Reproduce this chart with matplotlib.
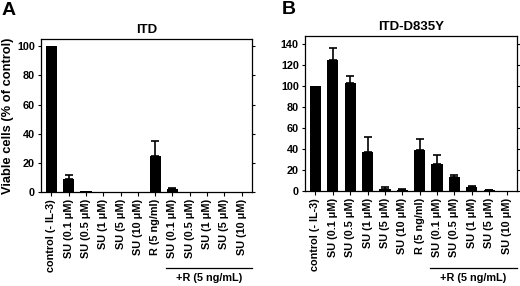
import matplotlib
matplotlib.use("Agg")
import matplotlib.pyplot as plt
import numpy as np

plt.rcParams['font.family'] = ['Liberation Sans', 'DejaVu Sans']
plt.rcParams['font.weight'] = 'bold'

labels = ["control (- IL-3)", "SU (0.1 \u03bcM)", "SU (0.5 \u03bcM)", "SU (1 \u03bcM)",
          "SU (5 \u03bcM)", "SU (10 \u03bcM)", "R (5 ng/ml)", "SU (0.1 \u03bcM)",
          "SU (0.5 \u03bcM)", "SU (1 \u03bcM)", "SU (5 \u03bcM)", "SU (10 \u03bcM)"]
itd_vals = [100, 9, 0.4, 0, 0, 0, 25, 2, 0.3, 0, 0, 0]
itd_err = [0, 3, 0, 0, 0, 0, 10, 1, 0, 0, 0, 0]
d835_vals = [100, 125, 103, 37, 2, 1, 39, 26, 13, 3.5, 0.6, 0.3]
d835_err = [0, 12, 7, 15, 1.5, 0.5, 11, 8, 2.5, 1.5, 0.3, 0]
titles = ["ITD", "ITD-D835Y"]
panel_letters = ["A", "B"]
group_label = "+R (5 ng/mL)"

fig = plt.figure(figsize=(5.2, 2.86), dpi=100)
W, H = 520, 286
axA = fig.add_axes([41/W, 1-192/H, 211/W, 153/H])
axB = fig.add_axes([305/W, 1-191/H, 212/W, 155/H])

x = np.arange(len(labels))
specs = [(axA, itd_vals, itd_err, 105, [0, 20, 40, 60, 80, 100]),
         (axB, d835_vals, d835_err, 148, [0, 20, 40, 60, 80, 100, 120, 140])]
for i, (ax, vals, err, ymax, yt) in enumerate(specs):
    ax.bar(x, vals, width=0.65, color='black')
    e = np.array(err, dtype=float)
    mask = e > 0
    ax.errorbar(x[mask], np.array(vals)[mask], yerr=[np.zeros(mask.sum()), e[mask]],
                fmt='none', ecolor='black', elinewidth=1.2, capsize=3, capthick=1.2)
    ax.set_xlim(-0.6, len(labels) - 0.4)
    ax.set_ylim(0, ymax)
    ax.set_yticks(yt)
    ax.set_xticks(x)
    ax.set_xticklabels(labels, rotation=90, fontsize=7.8, fontweight='bold')
    ax.tick_params(axis='y', labelsize=7.8, length=2.5, width=0.8, right=True, direction='out', pad=2)
    ax.tick_params(axis='x', length=3, width=0.8, pad=2)
    for sp in ax.spines.values():
        sp.set_linewidth(0.9)
    ax.set_title(titles[i], fontsize=9.5, fontweight='bold', pad=4)
    # group bracket line
    x0 = 6.6
    x1 = len(labels) - 0.4
    ytr = ax.get_xaxis_transform()
    line_y = -0.497
    ax.plot([x0, x1], [line_y, line_y], transform=ytr, color='black', lw=0.9, clip_on=False)
    ax.text((x0 + x1) / 2, line_y - 0.03, group_label, transform=ytr, ha='center', va='top',
            fontsize=7.8, fontweight='bold')

axA.set_ylabel("Viable cells (% of control)", fontsize=9.3, fontweight='bold', labelpad=2)
fig.text(2/W, 1-2/H, "A", fontsize=14, fontweight='bold', va='top', ha='left')
fig.text(282/W, 1-1/H, "B", fontsize=14, fontweight='bold', va='top', ha='left')

fig.savefig("out.png", dpi=100)
